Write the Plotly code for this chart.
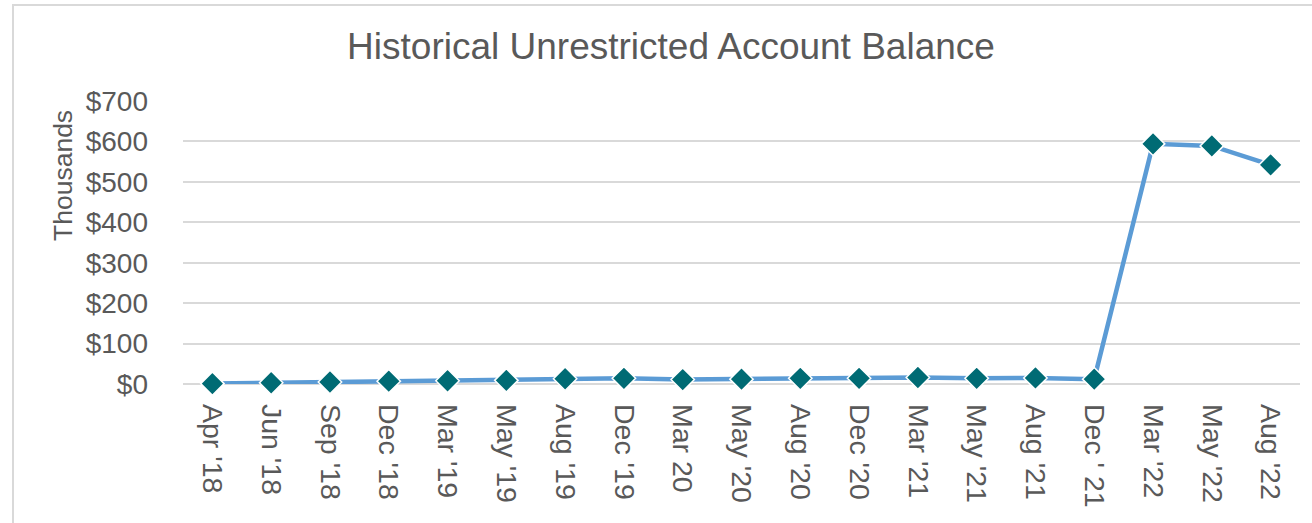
import plotly.graph_objects as go

categories = ["Apr '18", "Jun '18", "Sep '18", "Dec '18", "Mar '19", "May '19", "Aug '19",
              "Dec '19", "Mar 20", "May '20", "Aug '20", "Dec '20", "Mar '21", "May '21",
              "Aug '21", "Dec ' 21", "Mar '22", "May '22", "Aug '22"]
balance_thousands = [1, 3, 5, 7, 8, 9, 13, 14, 11, 12, 14, 14, 16, 14, 15, 12, 594, 589, 542]
y_ticks = [0, 100, 200, 300, 400, 500, 600, 700]
y_tick_labels = ["$" + str(v) for v in y_ticks]

fig = go.Figure()
fig.add_trace(go.Scatter(
    x=categories, y=balance_thousands, mode="lines+markers",
    line=dict(color="#5B9BD5", width=4.5),
    marker=dict(symbol="diamond", size=18, color="#006B74", line=dict(color="white", width=1.5)),
    showlegend=False, cliponaxis=False,
))

fig.update_layout(
    width=1312, height=523,
    margin=dict(l=183, r=12, t=101, b=139),
    paper_bgcolor="white", plot_bgcolor="white",
    font=dict(family="Liberation Sans, Arial, sans-serif", color="#595959"),
    title=dict(text="Historical Unrestricted Account Balance", x=671 / 1312, xanchor="center",
               y=1 - 46 / 523, yanchor="middle", font=dict(size=37, color="#595959")),
    xaxis=dict(type="category", tickangle=90, tickfont=dict(size=28.5, color="#595959"),
               showgrid=False, showline=False, ticks="", ticklabelstandoff=19,
               range=[-0.5, len(categories) - 0.5]),
    yaxis=dict(range=[0, 700], tickmode="array", tickvals=y_ticks, ticktext=y_tick_labels,
               tickfont=dict(size=28, color="#595959"),
               showgrid=True, gridcolor="#D9D9D9", gridwidth=1.5, zeroline=True, zerolinecolor="#D9D9D9",
               zerolinewidth=1.5, showline=False, ticks="", ticklabelstandoff=34),
    annotations=[dict(text="Thousands", textangle=-90, xref="paper", yref="paper",
                      x=(63 - 183) / 1117, y=(384 - 176) / 283, xanchor="center", yanchor="middle",
                      showarrow=False, font=dict(size=26.5, color="#595959"))],
    shapes=[dict(type="rect", xref="paper", yref="paper",
                 x0=(13 - 183) / 1117, x1=1.2, y0=-1.0, y1=(384 - 5) / 283,
                 line=dict(color="#D9D9D9", width=2), fillcolor="rgba(0,0,0,0)", layer="below")],
)

fig.write_html("out.html", config={"displayModeBar": False},
               post_script="document.body.style.margin='0';document.body.style.overflow='hidden';")
